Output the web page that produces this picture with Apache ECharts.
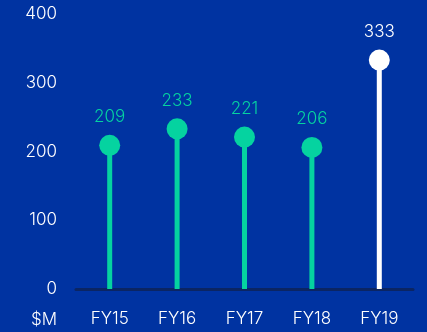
<!DOCTYPE html>
<html><head><meta charset="utf-8">
<script src="https://cdn.jsdelivr.net/npm/echarts@6/dist/echarts.min.js"></script>
<style>html,body{margin:0;padding:0;background:#0033A1;}#c{width:427px;height:332px;}</style>
</head><body><div id="c"></div>
<script>
const categories = ['FY15','FY16','FY17','FY18','FY19'];
const values = [209, 233, 221, 206, 333];
const highlight = [false, false, false, false, true];
const yTicks = [0, 100, 200, 300, 400];
const GREEN = '#05D3A0', WHITE = '#ffffff';
const colorOf = i => highlight[i] ? WHITE : GREEN;
const font = 'Inter, sans-serif';
const FS = 17, FW = 300;
const chart = echarts.init(document.getElementById('c'));
chart.setOption({
  backgroundColor: '#0033A1',
  animation: false,
  grid: {left: 76, right: 14, top: 14, bottom: 43, containLabel: false},
  xAxis: {
    type: 'category', data: categories,
    axisLine: {show: true, lineStyle: {color: '#0B2563', width: 3}},
    axisTick: {show: false},
    axisLabel: {color: '#fff', fontSize: FS, fontWeight: FW, fontFamily: font, margin: 21}
  },
  yAxis: {
    type: 'value', min: yTicks[0], max: yTicks[yTicks.length-1], interval: 100,
    splitLine: {show: false}, axisLine: {show: false}, axisTick: {show: false},
    axisLabel: {color: '#fff', fontSize: FS, fontWeight: FW, fontFamily: font, margin: 19}
  },
  graphic: [{type: 'text', right: 370, top: 311, style: {text: '$M', fill: '#fff', font: FW + ' ' + FS + 'px ' + font}}],
  series: [
    {type: 'bar', barWidth: 5, silent: true,
     data: values.map((v, i) => ({value: v, itemStyle: {color: colorOf(i)}}))},
    {type: 'scatter', symbolSize: 21, z: 5,
     data: values.map((v, i) => ({value: v, itemStyle: {color: colorOf(i), opacity: 1},
       label: {show: true, position: 'top', distance: 9, color: colorOf(i), fontSize: FS, fontWeight: FW, fontFamily: font}}))}
  ]
});
</script></body></html>
